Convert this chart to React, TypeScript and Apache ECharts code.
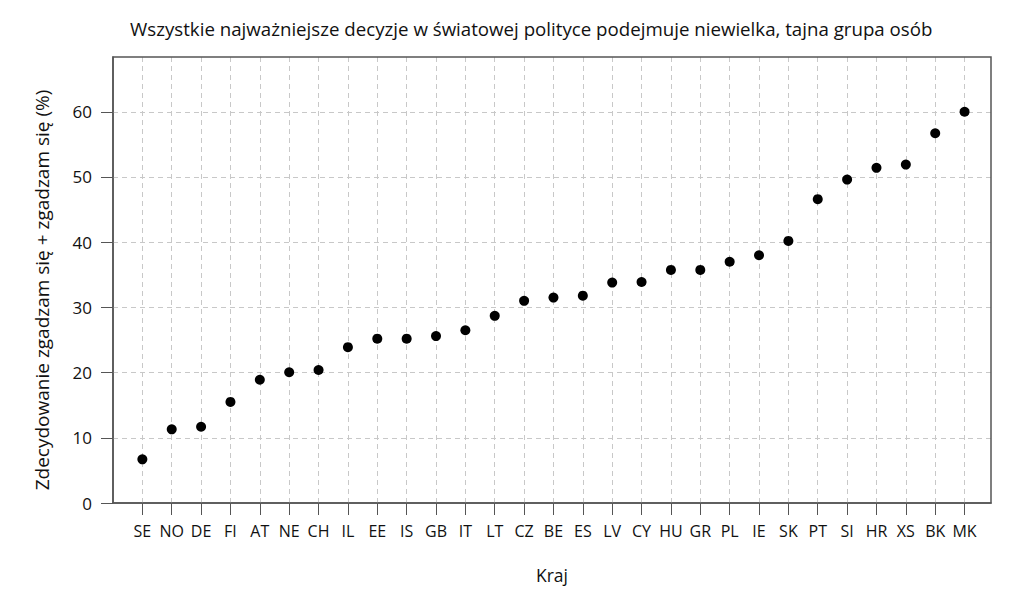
import React, { useEffect, useRef } from "react";
import * as echarts from "echarts";

const countries = ["SE","NO","DE","FI","AT","NE","CH","IL","EE","IS","GB","IT","LT","CZ","BE","ES","LV","CY","HU","GR","PL","IE","SK","PT","SI","HR","XS","BK","MK"];
const values = [6.7, 11.3, 11.7, 15.5, 18.9, 20.05, 20.4, 23.9, 25.2, 25.2, 25.6, 26.5, 28.7, 31.0, 31.5, 31.8, 33.8, 33.9, 35.75, 35.75, 37.0, 38.0, 40.2, 46.6, 49.6, 51.4, 51.9, 56.7, 60.0];
const yTicks = [0, 10, 20, 30, 40, 50, 60];

const title = "Wszystkie najważniejsze decyzje w światowej polityce podejmuje niewielka, tajna grupa osób";
const yName = "Zdecydowanie zgadzam się + zgadzam się (%)";
const xName = "Kraj";

export default function App() {
  const ref = useRef<HTMLDivElement>(null);
  useEffect(() => {
    if (!ref.current) return;
    const chart = echarts.init(ref.current, null, { renderer: "svg" });
    const idx = countries.map((_, i) => i + 1);
    const font = "Open Sans";
    chart.setOption({
      animation: false,
      backgroundColor: "#fff",
      title: {
        text: title,
        left: 125,
        top: 14,
        textStyle: { fontFamily: font, fontSize: 18.7, fontWeight: "normal", color: "#111" },
      },
      grid: { left: 113, right: 33, top: 57, bottom: 96, containLabel: false },
      xAxis: {
        type: "value",
        min: 0,
        max: 29.9,
        name: xName,
        nameLocation: "middle",
        nameGap: 63,
        nameTextStyle: { fontFamily: font, fontSize: 17.5, color: "#111" },
        axisLine: { show: true, lineStyle: { color: "#555", width: 1.5 } },
        axisTick: { show: true, length: 12, customValues: idx, lineStyle: { color: "#555" } },
        axisLabel: {
          customValues: idx,
          formatter: (v: number) => countries[Math.round(v) - 1] ?? "",
          fontFamily: font,
          fontSize: 16,
          color: "#111",
          margin: 20,
        },
        splitLine: { show: false },
      },
      yAxis: {
        type: "value",
        min: 0,
        max: 68.4,
        name: yName,
        nameLocation: "middle",
        nameGap: 62,
        nameTextStyle: { fontFamily: font, fontSize: 19, color: "#111", padding: [0, 20, 0, 0] },
        axisLine: { show: true, lineStyle: { color: "#555", width: 1.5 } },
        axisTick: { show: true, length: 12, customValues: yTicks, lineStyle: { color: "#555" } },
        axisLabel: { customValues: yTicks, fontFamily: font, fontSize: 17, color: "#111", margin: 21 },
        splitLine: { show: false },
      },
      series: [
        {
          type: "line",
          data: [],
          markLine: {
            silent: true,
            symbol: "none",
            label: { show: false },
            lineStyle: { type: [5, 4], color: "#c8c8c8", width: 1 },
            data: [
              ...idx.map((i) => ({ xAxis: i })),
              ...yTicks.slice(1).map((v) => ({ yAxis: v })),
            ],
          },
        },
        {
          type: "scatter",
          symbol: "circle",
          symbolSize: 10,
          itemStyle: { color: "#000", opacity: 1 },
          data: values.map((v, i) => [i + 1, v]),
          z: 5,
        },
      ],
      graphic: [
        {
          type: "rect",
          shape: { x: 113, y: 57, width: 878, height: 446 },
          style: { fill: "none", stroke: "#555", lineWidth: 1.5 },
          silent: true,
          z: 10,
        },
      ],
    });
    return () => chart.dispose();
  }, []);
  return <div ref={ref} style={{ width: 1024, height: 599, position: "absolute", left: 0, top: 0 }} />;
}
